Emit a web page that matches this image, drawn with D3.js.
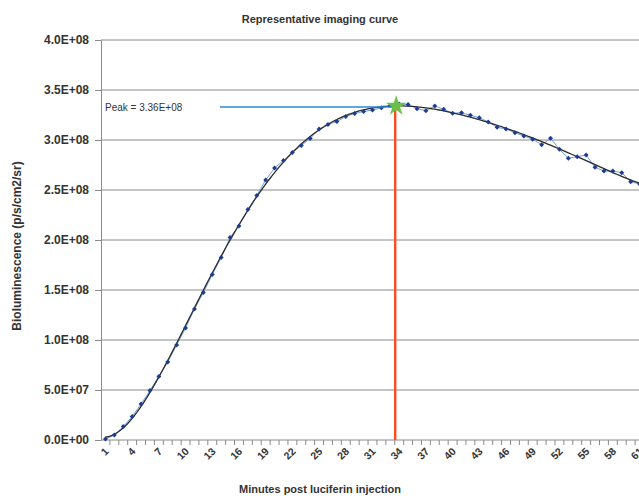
<!DOCTYPE html>
<html>
<head>
<meta charset="utf-8">
<script src="https://cdn.jsdelivr.net/npm/d3@7"></script>
<style>
  html, body { margin: 0; padding: 0; background: #fff; overflow: hidden; }
  svg { display: block; }
  text { font-family: "Liberation Sans", Arial, sans-serif; fill: #333; }
</style>
</head>
<body>
<svg id="chart" width="639" height="498"></svg>
<script>
// ---- data ----
const minutes = d3.range(1, 62);          // categories 1..61
const signal = [
  1.0e6, 5.0e6, 13.5e6, 23.5e6, 36.0e6, 49.5e6, 63.5e6, 78.0e6, 95.0e6, 112.0e6,
  131.0e6, 147.5e6, 165.5e6, 182.5e6, 202.5e6, 214.0e6, 230.5e6, 244.5e6, 260.0e6, 272.0e6,
  279.5e6, 287.5e6, 294.5e6, 301.5e6, 311.0e6, 315.5e6, 318.5e6, 323.5e6, 326.5e6, 328.5e6,
  330.0e6, 332.3e6, 334.5e6, 336.0e6, 335.5e6, 331.3e6, 329.3e6, 334.0e6, 330.7e6, 326.7e6,
  327.3e6, 324.7e6, 322.3e6, 318.0e6, 312.7e6, 311.0e6, 307.3e6, 304.0e6, 300.7e6, 295.3e6,
  301.7e6, 290.7e6, 281.7e6, 283.3e6, 285.0e6, 272.7e6, 269.0e6, 269.0e6, 267.3e6, 258.3e6,
  256.0e6
];
const yTicks = [0, 0.5e8, 1.0e8, 1.5e8, 2.0e8, 2.5e8, 3.0e8, 3.5e8, 4.0e8];
const xTickLabels = d3.range(1, 62, 3);   // 1,4,7,...,61
const titleText = "Representative imaging curve";
const xTitle = "Minutes post luciferin injection";
const yTitle = "Bioluminescence (p/s/cm2/sr)";
const peakLabel = "Peak = 3.36E+08";
const trendDegree = 6;

// ---- layout ----
const svg = d3.select("#chart");
const plotLeft = 101, plotTop = 40, plotBottom = 440, plotRight = 644;

const x = d3.scaleBand().domain(minutes).range([plotLeft, plotRight]).padding(0);
const xc = m => x(minutes[0]) + (m - minutes[0]) * x.step() + x.bandwidth() / 2;
const y = d3.scaleLinear().domain([0, 4.0e8]).range([plotBottom, plotTop]);

const fmt = v => {
  const s = v.toExponential(1);
  const [mant, ex] = s.split("e");
  return mant + "E" + ex[0] + ex.slice(1).padStart(2, "0");
};

// gridlines
svg.append("g").selectAll("line").data(yTicks.filter(d => d > 0)).join("line")
  .attr("x1", plotLeft).attr("x2", plotRight)
  .attr("y1", d => y(d)).attr("y2", d => y(d))
  .attr("stroke", "#8a8a8a").attr("stroke-width", 1);

// y axis
const yAxis = d3.axisLeft(y).tickValues(yTicks).tickFormat(fmt).tickSize(6).tickSizeOuter(0);
const gy = svg.append("g").attr("transform", `translate(${plotLeft},0)`).call(yAxis);
gy.select(".domain").attr("stroke", "#8a8a8a");
gy.selectAll(".tick line").attr("stroke", "#8a8a8a");
gy.selectAll(".tick text")
  .attr("x", -12)
  .style("font-family", "'Liberation Sans', Arial, sans-serif")
  .style("font-size", "12px").style("font-weight", "bold").attr("fill", "#3a3a3a");

// x axis line + ticks at category boundaries
svg.append("line").attr("x1", plotLeft).attr("x2", plotRight)
  .attr("y1", plotBottom).attr("y2", plotBottom).attr("stroke", "#8a8a8a");
svg.append("g").selectAll("line").data(minutes).join("line")
  .attr("x1", d => x(d) + x.bandwidth()).attr("x2", d => x(d) + x.bandwidth())
  .attr("y1", plotBottom).attr("y2", plotBottom + 5)
  .attr("stroke", "#8a8a8a");

// x tick labels (rotated)
svg.append("g").selectAll("text").data(xTickLabels).join("text")
  .attr("transform", d => `translate(${xc(d) + 4},${plotBottom + 12}) rotate(-45)`)
  .attr("text-anchor", "end")
  .style("font-size", "10.5px").style("font-weight", "bold").attr("fill", "#3a3a3a")
  .text(d => d);

// data series line
const pts = minutes.map((m, i) => [m, signal[i]]);
svg.append("path").datum(pts)
  .attr("fill", "none").attr("stroke", "#6f9fe0").attr("stroke-width", 1)
  .attr("d", d3.line().x(d => xc(d[0])).y(d => y(d[1])));

// polynomial trendline (least squares fit of the series)
function polyFit(xs, ys, deg) {
  const n = deg + 1;
  const A = Array.from({length: n}, () => new Array(n + 1).fill(0));
  xs.forEach((xv, k) => {
    const pw = [];
    for (let p = 0; p <= 2 * deg; p++) pw.push(Math.pow(xv, p));
    for (let r = 0; r < n; r++) {
      for (let c = 0; c < n; c++) A[r][c] += pw[r + c];
      A[r][n] += pw[r] * ys[k];
    }
  });
  for (let i = 0; i < n; i++) {
    let mx = i;
    for (let r = i + 1; r < n; r++) if (Math.abs(A[r][i]) > Math.abs(A[mx][i])) mx = r;
    const tmp = A[i]; A[i] = A[mx]; A[mx] = tmp;
    for (let r = 0; r < n; r++) {
      if (r === i) continue;
      const f = A[r][i] / A[i][i];
      for (let c = i; c <= n; c++) A[r][c] -= f * A[i][c];
    }
  }
  return A.map((row, i) => row[n] / row[i]);
}
const mid = (minutes[0] + minutes[minutes.length - 1]) / 2;
const half = (minutes[minutes.length - 1] - minutes[0]) / 2;
const tNorm = m => (m - mid) / half;
const coef = polyFit(minutes.map(tNorm), signal.map(v => v / 1e8), trendDegree);
const evalPoly = t => coef.reduce((s, c, p) => s + c * Math.pow(t, p), 0) * 1e8;
const trendPts = d3.range(minutes[0], minutes[minutes.length - 1] + 0.001, 0.25)
  .map(m => [m, evalPoly(tNorm(m))]);
svg.append("path").datum(trendPts)
  .attr("fill", "none").attr("stroke", "#2b2b2b").attr("stroke-width", 1.3)
  .attr("d", d3.line().x(d => xc(d[0])).y(d => y(d[1])));

// markers (small diamonds)
svg.append("g").selectAll("path").data(pts).join("path")
  .attr("transform", d => `translate(${xc(d[0])},${y(d[1])}) rotate(45)`)
  .attr("d", d3.symbol(d3.symbolSquare).size(12))
  .attr("fill", "#1d3b8f");

// peak annotation
const iPeak = d3.maxIndex(signal);
const peakMin = minutes[iPeak], peakVal = signal[iPeak];
svg.append("line")
  .attr("x1", 220).attr("x2", xc(peakMin))
  .attr("y1", y(peakVal) + 3).attr("y2", y(peakVal) + 3)
  .attr("stroke", "#2a8ad6").attr("stroke-width", 1.6);
svg.append("line")
  .attr("x1", xc(peakMin) - 4).attr("x2", xc(peakMin) - 4)
  .attr("y1", y(peakVal) + 3).attr("y2", plotBottom)
  .attr("stroke", "#ff4b1e").attr("stroke-width", 2.4);
svg.append("path")
  .attr("transform", `translate(${xc(peakMin) - 3},${y(peakVal) + 2})`)
  .attr("d", d3.symbol(d3.symbolStar).size(130))
  .attr("fill", "#6cc04a");
svg.append("text").attr("x", 105).attr("y", y(peakVal) + 7)
  .style("font-size", "10px").attr("fill", "#333").text(peakLabel);

// titles
svg.append("text").attr("x", 320).attr("y", 23).attr("text-anchor", "middle")
  .style("font-size", "11px").style("font-weight", "bold").text(titleText);
svg.append("text").attr("x", 320).attr("y", 493).attr("text-anchor", "middle")
  .style("font-size", "11px").style("font-weight", "bold").text(xTitle);
svg.append("text").attr("transform", `translate(21,246) rotate(-90)`).attr("text-anchor", "middle")
  .style("font-size", "12px").style("font-weight", "bold").text(yTitle);
</script>
</body>
</html>
